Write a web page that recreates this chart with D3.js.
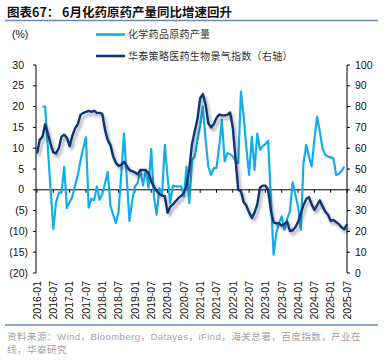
<!DOCTYPE html>
<html>
<head>
<meta charset="utf-8">
<script src="https://cdn.jsdelivr.net/npm/d3@7"></script>
<style>
  html, body { margin: 0; padding: 0; background: #fff; }
  svg { display: block; }
</style>
</head>
<body>
<div id="chart"></div>
<script>
// 月份刻度 (每 6 个月一个)
const tickLabels = ['2016-01','2016-07','2017-01','2017-07','2018-01','2018-07','2019-01','2019-07',
  '2020-01','2020-07','2021-01','2021-07','2022-01','2022-07','2023-01','2023-07','2024-01','2024-07',
  '2025-01','2025-07'];

// 化学药品原药产量 同比 (%) ，2016-01 起按月，前两个月无数据
const apiOutput = [null, null,
  20, 20, 10, 0, -9.4, -3.1, -0.7, -0.7, 5.5, -4.4,
  -3, -1.6, 1, 3.5, 7, 10, 12.6, -4.3, -2.2, -2.5, 0.8, -2.4,
  -1, 1.5, 4.3, -3.8, -6, -8, -5.2, 4, 13.5, 3, -7.5, -2.6,
  0.8, 1.6, 4.8, 1, 4.8, 0.4, 9.8, -1.6, -6, 0.4, -1, 10.8,
  3.2, -3.2, 1, 0.8, 0.8, 0.8, -1.6, 5.6, -3.2, 7.2, 8, 12,
  15.4, 20, 12, 5.6, 3.6, 5.2, 5.2, 10.4, 16.8, 6.8, 8.8, 8.6,
  8, 7, 6.4, 23.6, 17.6, 10, 3.6, 12.8, 4.8, 13.5, 9.6, 10.5,
  11, 11.8, -2, -15.6, -10.4, -8, -6.4, -9.6, -7, -5.2, 1.8, -1.2,
  -4, -9.6, 6.4, 10.8, 8, 5.6, 12, 17.6, 14, 10, 8.4, 8,
  7.8, 7.6, 3.6, 3.8, 4.5, 5.6];

// 华泰策略医药生物景气指数 (右轴)
const pharmaIndex = [
  57.5, 64, 65.5, 71.5, 67, 62, 58, 57.5, 60, 65.5, 66.5, 65,
  61, 66, 69.5, 71.5, 76, 77, 77.5, 78, 77.5, 78, 77, 77,
  76.5, 68.8, 64, 61.5, 56, 53, 51.5, 52, 53.5, 51.5, 49.5, 49,
  48.4, 47.5, 49.5, 49.5, 49.5, 48, 44, 41.5, 39.4, 38, 37.2, 37,
  29, 31.9, 33, 34.5, 36, 37, 38.5, 42, 50, 62, 68, 74,
  84, 86, 81, 72, 70, 71.5, 74.5, 76.2, 75.8, 75.8, 76, 77.2,
  70, 55, 40, 39.4, 34, 32.4, 29, 26.5, 29, 33, 41, 42,
  42, 40, 30, 24.3, 23.9, 24, 22.8, 23.5, 24.7, 20.2, 20.5, 22,
  24.5, 28.5, 32.7, 35.5, 36.5, 33, 30.3, 32.5, 35, 32, 29.5, 28,
  25, 25.5, 24.5, 23.5, 22, 21, 23.5];

const leftTicks = [30, 25, 20, 15, 10, 5, 0, -5, -10, -15, -20];
const rightTicks = [100, 90, 80, 70, 60, 50, 40, 30, 20, 10, 0];

const W = 391, H = 360;
const LIGHT = '#13aee8', DARK = '#0c3477', RULE = '#6a88b3';
const latin = 'Arial, "Liberation Sans", sans-serif';
const cjk = '"Noto Sans CJK SC", sans-serif';

const svg = d3.select('#chart').append('svg').attr('width', W).attr('height', H);

const defs = svg.append('defs');
const f = defs.append('filter').attr('id', 'shadow')
  .attr('x', '-10%').attr('y', '-10%').attr('width', '120%').attr('height', '130%');
f.append('feDropShadow').attr('dx', 2).attr('dy', 3).attr('stdDeviation', 1.8)
  .attr('flood-color', '#000').attr('flood-opacity', 0.35);

// 标题
svg.append('text').attr('x', 7).attr('y', 17)
  .attr('font-family', cjk).attr('font-weight', 'bold').attr('font-size', 12.5).attr('fill', '#111')
  .text('图表67：  6月化药原药产量同比增速回升');
svg.append('line').attr('x1', 5).attr('x2', 378).attr('y1', 20.5).attr('y2', 20.5)
  .attr('stroke', RULE).attr('stroke-width', 1.3);

// 比例尺
const x = d3.scaleLinear().domain([0, 114]).range([37, 347]);
const yL = d3.scaleLinear().domain([-20, 30]).range([273, 65]);
const yR = d3.scaleLinear().domain([0, 100]).range([273, 65]);

// 左轴
const gL = svg.append('g');
gL.append('line').attr('x1', 36).attr('x2', 36).attr('y1', yL(30)).attr('y2', yL(-20))
  .attr('stroke', '#000').attr('stroke-width', 1);
leftTicks.forEach(t => {
  gL.append('line').attr('x1', 33).attr('x2', 36).attr('y1', yL(t)).attr('y2', yL(t)).attr('stroke', '#000');
  gL.append('text').attr('x', t < 0 ? 28 : 24).attr('y', yL(t)).attr('dy', '0.35em')
    .attr('text-anchor', 'end').attr('font-family', latin).attr('font-size', 10.5).attr('fill', '#111')
    .text(t < 0 ? '(' + (-t) + ')' : t);
});

// 右轴
const gR = svg.append('g');
gR.append('line').attr('x1', 347).attr('x2', 347).attr('y1', yR(100)).attr('y2', yR(0))
  .attr('stroke', '#000');
rightTicks.forEach(t => {
  gR.append('line').attr('x1', 347).attr('x2', 350).attr('y1', yR(t)).attr('y2', yR(t)).attr('stroke', '#000');
  gR.append('text').attr('x', 355).attr('y', yR(t)).attr('dy', '0.35em')
    .attr('font-family', latin).attr('font-size', 10.5).attr('fill', '#111').text(t);
});

// 零线与月份刻度
svg.append('line').attr('x1', 36).attr('x2', 347).attr('y1', yL(0)).attr('y2', yL(0))
  .attr('stroke', '#000');
tickLabels.forEach((lab, i) => {
  const px = x(i * 6);
  svg.append('line').attr('x1', px).attr('x2', px).attr('y1', yL(0)).attr('y2', yL(0) + 3)
    .attr('stroke', '#000');
  svg.append('text')
    .attr('transform', `translate(${px + 3.8},281) rotate(-90)`)
    .attr('text-anchor', 'end').attr('font-family', latin).attr('font-size', 10.5).attr('fill', '#111')
    .text(lab);
});

// 折线
const lightData = apiOutput.map((v, i) => ({ i, v })).filter(d => d.v != null);
const darkData = pharmaIndex.map((v, i) => ({ i, v }));

svg.append('path').datum(lightData)
  .attr('d', d3.line().x(d => x(d.i)).y(d => yL(d.v)))
  .attr('fill', 'none').attr('stroke', LIGHT).attr('stroke-width', 2.2).attr('stroke-linejoin', 'round');

svg.append('path').datum(darkData)
  .attr('d', d3.line().x(d => x(d.i)).y(d => yR(d.v)))
  .attr('fill', 'none').attr('stroke', DARK).attr('stroke-width', 2.4).attr('stroke-linejoin', 'round')
  .attr('filter', 'url(#shadow)');

// 图例
svg.append('text').attr('x', 12).attr('y', 34).attr('dy', '0.35em')
  .attr('font-family', latin).attr('font-size', 10.5).attr('fill', '#111').text('(%)');
const legend = [
  { y: 34.5, c: LIGHT, t: '化学药品原药产量' },
  { y: 56, c: DARK, t: '华泰策略医药生物景气指数（右轴）' }
];
legend.forEach(l => {
  svg.append('line').attr('x1', 96).attr('x2', 125).attr('y1', l.y).attr('y2', l.y)
    .attr('stroke', l.c).attr('stroke-width', 2.6);
  svg.append('text').attr('x', 128).attr('y', l.y).attr('dy', '0.35em')
    .attr('font-family', cjk).attr('font-size', 10).attr('letter-spacing', 0.3).attr('fill', '#333').text(l.t);
});

// 资料来源
svg.append('line').attr('x1', 5).attr('x2', 378).attr('y1', 325).attr('y2', 325)
  .attr('stroke', RULE).attr('stroke-width', 1.3);
const src = svg.append('g').attr('font-family', `Arial, ${cjk}`).attr('font-size', 9.6)
  .attr('letter-spacing', 0.4).attr('fill', '#a2a2a2');
src.append('text').attr('x', 7).attr('y', 340).text('资料来源：Wind，Bloomberg，Datayes，iFind，海关总署，百度指数，产业在');
src.append('text').attr('x', 7).attr('y', 353).text('线，华泰研究');
</script>
</body>
</html>
